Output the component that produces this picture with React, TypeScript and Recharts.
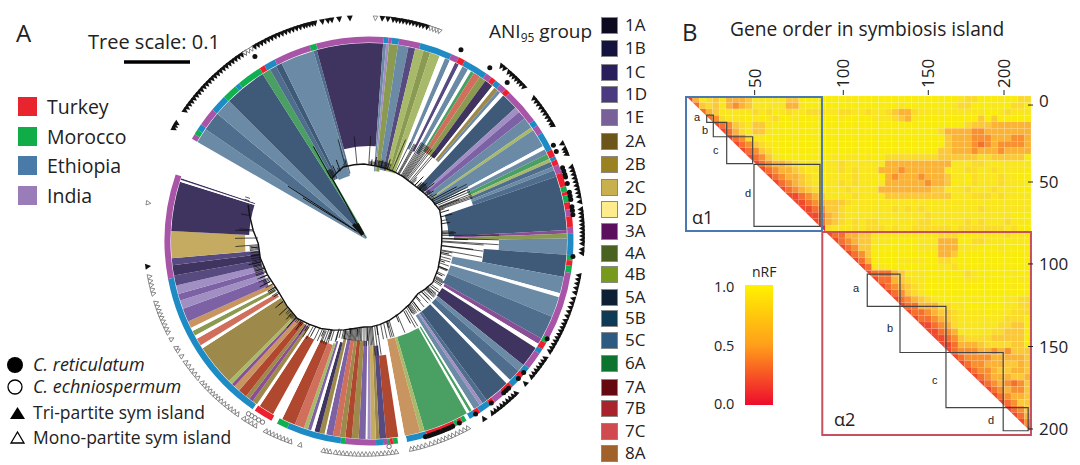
import React from 'react';
import {
  PieChart, Pie, Sector, ScatterChart, Scatter, XAxis, YAxis, ReferenceArea,
} from 'recharts';

const FONT = '"Open Sans", Lato, sans-serif';

// ---- legends
const aniGroups = ['1A', '1B', '1C', '1D', '1E', '2A', '2B', '2C', '2D', '3A', '4A', '4B', '5A', '5B', '5C', '6A', '7A', '7B', '7C', '8A'];
const aniColors = ['#0d0a1f', '#151240', '#2a1f5c', '#4a3a80', '#786199', '#6b551b', '#9a8223', '#c9b04e', '#fdeb8c', '#5c0f5c', '#4a6122', '#779a1d', '#0c1f35', '#0f3a55', '#2d5a80', '#0c742e', '#66080f', '#a8232b', '#d04a50', '#a0622a'];
const aniRowY = [25, 48, 72, 94, 117, 141, 164, 187, 209, 231, 253, 274, 297, 318, 340, 363, 387, 408, 431, 453];
const countries = ['Turkey', 'Morocco', 'Ethiopia', 'India'];
const countryColors = ['#e8252e', '#10ac48', '#4a7aa8', '#9a7cb8'];

// ---- clades of the tree, clockwise from the open gap
const cladeGroups = ['5C', '5M', '5C', '5B', '6A', '5M', '5B', '5C', '5M', '1C', '5C', 'L', '4A', '5C', '1D', '4B', '4A', '4B', 'W', '5C', 'W', '1D', 'W', '5C', 'W', '6A', '7C', '4A', '1C', 'W', '2B', '5C', 'W', '5B', 'L', '1E', '5C', '4B', '5C', 'W', '5C', '6A', '4B', '5M', '5C', '5M', '5B', '3A', '4A', '5C', '5B', '5C', 'W', '5C', '5M', '3A', 'W', '1C', '5C', '5M', 'W', '5B', '5M', 'L', '5C', 'W', '6A', 'W', '6A', '4B', '8A', 'W', '7B', '1D', '2B', '2C', 'L', 'W', '1E', '2B', '7B', '2B', '7C', '1E', 'W', '2B', '1C', 'W', '1E', '4B', '7C', '7B', 'W', '7B', 'W', '2B', '3A', '2B', '7B', '8A', '3A', '4B', '2B', 'W', '7C', 'W', '4A', 'W', '8A', '1E', 'L', '1E', 'L', '1D', '1C', '1D', '2C', '1C', 'W', '1C', 'W'];
const cladeSpans = [4.4, 5.6, 5, 12.5, 2.5, 2, 1.8, 9.9, 1, 19.4, 0.9, 0.8, 2.6, 3.1, 2, 2.5, 2, 2.9, 1.7, 1.5, 1.7, 1.2, 1.2, 1.8, 1, 1, 2, 2, 2.5, 0.8, 1.2, 1, 1.2, 5, 1.6, 2.5, 3.2, 1, 5.4, 1.1, 1.5, 1.5, 1, 1.5, 1.1, 1.9, 15.8, 1, 1.5, 4.7, 6.5, 4.8, 1.2, 6, 7, 1.8, 1.4, 6.1, 2.2, 3.6, 1.4, 7.5, 1.5, 1, 2, 0.8, 0.8, 0.8, 13.3, 1.3, 4.6, 1.9, 3.5, 2, 1, 1.5, 1, 0.5, 2, 2, 1.9, 1.6, 2, 2, 0.5, 1.5, 1.5, 1, 1, 1.2, 2.8, 4, 3, 4.5, 1, 1.5, 1.2, 1.2, 2.6, 1.8, 1, 1.2, 12.2, 1, 2.2, 1.1, 1.5, 1, 2, 4, 2.5, 2, 2.5, 3, 3, 2, 7.9, 14.5, 0.6, 0.5, 0.5];
// distance from the root to where each collapsed clade opens
const cladeDepths = [4, 4, 4, 4, 4, 70, 70, 68, 70, 95, 70, 70, 70, 72, 72, 72, 72, 72, 72, 100, 100, 100, 100, 100, 100, 105, 105, 105, 105, 105, 105, 105, 105, 72, 75, 75, 75, 75, 75, 75, 110, 110, 110, 110, 110, 110, 80, 85, 85, 130, 115, 85, 85, 85, 85, 87, 87, 87, 88, 88, 88, 88, 88, 88, 88, 88, 100, 100, 100, 100, 100, 100, 115, 105, 105, 105, 105, 105, 100, 100, 100, 100, 100, 100, 100, 100, 105, 105, 105, 108, 110, 110, 110, 113, 113, 105, 105, 105, 105, 105, 105, 105, 105, 106, 106, 106, 106, 106, 106, 110, 110, 110, 110, 110, 110, 110, 124, 120, 120, 120, 120];
const cladeTints: Record<string, string> = {
  '1C': '#3f3360', '1D': '#574a80', '1E': '#7c62a4', L: '#a18fc4', '2B': '#9d8a4a', '2C': '#c5aa62',
  '3A': '#8a4e96', '4A': '#8a9a50', '4B': '#a9b96a', '5B': '#3e5a78', '5C': '#6b8aa5', '5M': '#4f6d8c',
  '6A': '#4a9f62', '7B': '#b0472f', '7C': '#d0705c', '8A': '#c89460', W: '#ffffff',
};

// ---- country strip round the tree
const stripSpans = [1.5, 1.5, 1.8, 5.2, 4.8, 4.4, 1.3, 7.2, 1.5, 3.3, 10.6, 1.9, 19.2, 1.3, 1, 2, 6.1, 9.2, 2.3, 1.9, 7, 1.8, 1.5, 1.7, 2, 1.5, 10.3, 1.7, 2.5, 5.4, 2.1, 1, 1.5, 2.5, 3.9, 1.6, 1, 2, 2, 2, 3, 2, 6, 1.5, 1.5, 2, 19.4, 1.6, 2, 1.5, 5, 2.1, 1.8, 3, 3.2, 3.4, 1.6, 3.4, 1.6, 1.9, 1, 1.2, 1.3, 1, 8.4, 5.9, 2.5, 1.4, 0.8, 0.6, 1.4, 2, 8.8, 1.2, 15.6, 3.2, 1.7, 5.5, 0.7, 44.6, 29.7];
const stripOrder = ['P', 'G', 'B', 'P', 'B', 'G', 'B', 'G', 'R', 'B', 'P', 'G', 'P', 'B', 'P', 'B', 'P', 'B', 'P', 'R', 'B', 'P', 'R', 'B', 'P', 'R', 'P', 'B', 'P', 'B', 'R', 'B', 'R', 'P', 'R', 'G', 'R', 'G', 'R', 'P', 'R', 'P', 'B', 'G', 'R', 'G', 'P', 'G', 'R', 'B', 'P', 'B', 'R', 'B', 'R', 'P', 'R', 'B', 'R', 'B', 'W', 'G', 'R', 'G', 'R', 'B', 'W', 'G', 'R', 'G', 'P', 'B', 'P', 'G', 'B', 'G', 'W', 'R', 'W', 'B', 'P'];
const stripTints: Record<string, string> = { P: '#a855a8', B: '#1f8bc4', G: '#10b050', R: '#ee2030', W: '#ffffff' };

// ---- tip annotations, degrees clockwise from the top
const triFilled = [-60.5, -59.8, -59, -55, -54, -53, -52, -51, -50, -49, -48, -47, -46, -45, -44, -43, -42, -41, -40, -39, -38, -37, -36, -35, -34, -33, -30, -29, -28, -27, -26, -25, -24, -23, -22, -21, -20, -19, -18, -17, -16, -15.3, -14.5, -13.7, -13, -11, -9.5, -8.5, -6.5, -3.7, 4.8, 6.3, 7.7, 8.6, 9.5, 10.4, 11.3, 12.2, 13.1, 14, 14.9, 15.8, 16.8, 39, 40, 41.5, 42.4, 43.3, 44.2, 45.1, 46, 47, 51, 52, 53, 54, 55, 56, 57, 58, 59, 59.6, 65, 66.5, 67.2, 68, 71.6, 72.6, 73.6, 74.6, 75.6, 76.6, 77.6, 78.6, 79.6, 81, 83, 84, 85, 86, 87, 88, 89, 90, 91, 92, 93.5, 94.5, 100.4, 101.5, 102.6, 103.8, 105, 106.7, 107.9, 109.1, 110.3, 111.5, 112.8, 113.8, 114.8, 115.8, 116.8, 117.8, 118.8, 119.8, 120.8, 121.8, 124, 125, 126, 127, 128, 129, 130, 132.4, 136, 137, 138, 139, 140, 141, 142, 143, 144, 146.7, 262];
const triOpen = [-33, -32, -31, 3, 17.8, 18.6, 19.4, 20.2, 151.6, 152.7, 153.8, 154.9, 156, 157, 158, 159, 160, 161, 162.2, 163.5, 164.6, 165.6, 166.6, 167.5, 171.5, 172.5, 173.5, 174.5, 175.5, 176.5, 177.5, 178.5, 179.5, 180.5, 181.5, 182.5, 183.5, 184.5, 185.5, 186.5, 187.5, 189, 189.9, 190.7, 197, 199.7, 200.7, 201.7, 202.7, 203.7, 204.7, 205.7, 206.7, 209.8, 211, 212.2, 213.3, 215.4, 216.5, 217.6, 218.7, 219.8, 220.9, 221.9, 222.8, 223.8, 224.8, 225.8, 226.8, 227.8, 229.5, 230.8, 232, 233.4, 234.7, 236.6, 238.4, 239.2, 241.8, 243.8, 244.8, 245.9, 247, 248, 249, 250, 251.1, 252.2, 254.7, 255.8, 257, 258.1, 259.3, 278.7];
const hostReticulatum = [-31.3, 27.5, 36.8, 43, 64.4, 66.3, 71, 72, 73, 73.7, 75.5, 78, 79, 80, 82, 83, 84.2, 95.6, 119.3, 130.5, 132.7, 136.5, 137.4, 138.3, 142.7, 147.9, 153, 155, 155.6, 156.2, 156.8, 157.4, 158, 158.6, 159.2, 159.8, 160.4, 161, 161.6, 162.2, 163];
const hostEchinospermum = [173.2, 208.6, 209.8, 211, 212, 213];

// ---- tree backbone (angle, radius) and the few long branches near the root
const backboneAngles = [-29, -23, -17, -8, 0, 10, 18, 25, 33, 40, 48, 55, 63, 71, 78, 86, 95, 105, 114, 124, 131, 137, 146, 155, 163, 170, 175, 180, 186, 192, 198, 205, 212, 219, 228, 238, 248, 258, 266, 273, 280, 285];
const backboneRadii = [66, 69, 72, 72, 72, 71, 71, 71, 71, 71, 72, 74, 77, 80, 79, 78, 78, 79, 81, 83, 81, 79, 82, 85, 88, 90, 91, 91, 93, 96, 99, 102, 104, 106, 104, 102, 104, 106, 106, 111, 116, 120];
const longBranchAngles = [-29, -56.7, -29.5, -58, -42, -29];
const longBranchFrom = [2, 8, 66, 10, 2, 2];
const longBranchTo = [66, 91, 103, 72, 16, 14];
const longBranchWidth = [1.2, 1, 1, 1, 3.5, 3];
// short fringe of leaves along the backbone
const hairAngles = [-24, -20, -14, 6, 9, 14, 19, 42, 45, 47, 50, 53, 57, 60, 62, 66, 69, 73, 76, 81, 88, 92, 97, 102, 108, 112, 117, 122, 127, 130, 134, 139, 143, 148, 152, 158, 165, 172, 178, 184, 188, 191, 195, 199, 203, 208, 212, 216, 220, 223, 227, 231, 236, 240, 244, 248, 252, 256, 260, 264];
const hairLengths = [8, 12, 7, 6, 9, 7, 10, 8, 12, 7, 10, 14, 9, 7, 28, 34, 22, 9, 12, 8, 14, 26, 32, 8, 6, 10, 7, 9, 12, 8, 10, 7, 12, 9, 14, 8, 7, 10, 14, 8, 6, 9, 12, 10, 7, 12, 8, 10, 14, 8, 12, 10, 7, 9, 12, 8, 10, 13, 9, 8];

// ---- nRF matrix, 4 genes per cell; each row starts at the diagonal, 0 red .. 9 yellow
const nrfRows = [
  '2587685556888886699999998999999999999999987799989977',
  '36768545688888558999999999999998999999987799989977',
  '35688888787987887778877887887655788888888889987888',
  '3478889898799899989989999888765899999999969699999',
  '234678668999999999999999999999999999997666555555555',
  '23578668999999999999999999999999975555445555555',
  '23478899999999999999999999999999965554445554455',
  '2346789999999999999999999999999965554345444455',
  '23467999999999999999999999999966555455545555',
  '234689999998989889899777777776666667766666',
  '234556788888878888885555555555888778888888',
  '2345567888887878885554555555888778878888',
  '234556788888878889545554555688978887889',
  '23456788887878898555555455698978887888',
  '234567888878888555555556688878887888',
  '22345688887888866666666668887778788888',
  '22345666788888888888888888888888888888',
  '22346678888888787878888888878888888',
  '2235678888888888887888888888888',
  '23567878778888887788888787888788',
  '178887877787887777778777777787',
  '233556688888888887779998888788',
  '23456688899998885559977888988',
  '234669999999888555888999899',
  '23469999999999556999999999',
  '2359999888899778999999999',
  '2388999999998879999999',
  '233356888999999789999989',
  '233567889999998899999989',
  '2345678999999999999989',
  '23467899999999999999',
  '234567899999899998877',
  '23355577889999998877',
  '2334566788889888777',
  '23345678888888777',
  '2234578888887766',
  '223458888877666',
  '22346777766666',
  '2235556777766',
  '2344455454666',
  '234444555556',
  '23445556656',
  '2344566556',
  '234555665',
  '23454346',
  '2345446',
  '234556',
  '23466',
  '2346',
  '235',
  '24',
  '3',
];
const nrfLevels = ['#ec1f30', '#ed2a30', '#f1492e', '#f5702c', '#f8902f', '#fbb335', '#fbc938', '#fadb2c', '#f9e61e', '#f9ec0c'];

// gene-order boxes, in genes
const blockNames = ['a', 'b', 'c', 'd', 'a', 'b', 'c', 'd'];
const blockStart = [12.5, 16.5, 24.6, 41.1, 109.6, 129.4, 157.2, 191.8];
const blockEnd = [16.5, 24.6, 40.3, 81, 129.4, 157.2, 191.8, 206.9];
const blockTop = [11.2, 15.7, 24.7, 41.8, 110, 130.1, 158.7, 193];
const blockBottom = [15.7, 24.7, 41.4, 80.4, 130.1, 158.7, 193, 207.3];
const blockLabelX = [694, 702, 713, 745, 853, 887, 932, 988];
const blockLabelY = [121, 134, 154, 197, 292, 332, 384, 424];

const xTickGenes = [41.5, 95.1, 146.5, 192.3];
const xTickLabels = ['50', '100', '150', '200'];
const yTickGenes = [5, 52.8, 103.7, 155, 206.2];
const yTickLabels = ['0', '50', '100', '150', '200'];

const cladeData = cladeGroups.map((g, i) => ({ name: g, value: cladeSpans[i], depth: cladeDepths[i], fill: cladeTints[g] }));
const stripData = stripOrder.map((g, i) => ({ name: g, value: stripSpans[i], fill: stripTints[g] }));

const toXY = (angle: number, radius: number) => ({
  x: radius * Math.sin((angle * Math.PI) / 180),
  y: radius * Math.cos((angle * Math.PI) / 180),
  angle,
});

const backbone = backboneAngles.map((a, i) => toXY(a, backboneRadii[i]));

// radius of the backbone closest to an angle, used for the stem of a clade
const backboneAt = (angle: number) => {
  let best = 0;
  backboneAngles.forEach((a, i) => {
    if (Math.abs(a - angle) < Math.abs(backboneAngles[best] - angle)) best = i;
  });
  return backboneRadii[best];
};

let walked = -60;
const stems = cladeGroups.flatMap((g, i) => {
  const from = walked;
  const span = cladeSpans[i];
  walked += span;
  if (g === 'W' || cladeDepths[i] < 10) return [];
  const marks = span > 1.5 ? [from + 0.3, from + span / 2, from + span - 0.3] : [from + span / 2];
  return marks.map((a) => [toXY(a, backboneAt(a)), toXY(a, cladeDepths[i] + 5)]);
});
const hairs = hairAngles.map((a, i) => [toXY(a, backboneAt(a)), toXY(a, backboneAt(a) + hairLengths[i])]);

const nrfCells = nrfRows.flatMap((row, r) => {
  const cells = [];
  for (let c = r; c < 52; c++) {
    const level = Number(row[c - r] ?? '9');
    cells.push({ x: c * 4 + 2, y: r * 4 + 2, diag: c === r, fill: nrfLevels[level] });
  }
  return cells;
});

const CladeSector = (props: any) => {
  const depth = props.payload?.depth ?? props.depth;
  return <Sector {...props} innerRadius={depth} stroke="none" />;
};

const FilledTip = ({ cx, cy, payload }: any) => (
  <polygon points={`${cx - 3},${cy - 2.8} ${cx + 3},${cy - 2.8} ${cx},${cy + 3}`} fill="#111" transform={`rotate(${payload.angle} ${cx} ${cy})`} />
);
const OpenTip = ({ cx, cy, payload }: any) => (
  <polygon points={`${cx - 2.3},${cy - 2.2} ${cx + 2.3},${cy - 2.2} ${cx},${cy + 2.4}`} fill="#fff" stroke="#777" strokeWidth={0.8} transform={`rotate(${payload.angle} ${cx} ${cy})`} />
);
const FilledHost = ({ cx, cy }: any) => <circle cx={cx} cy={cy} r={2.5} fill="#111" />;
const OpenHost = ({ cx, cy }: any) => <circle cx={cx} cy={cy} r={2.2} fill="#fff" stroke="#555" strokeWidth={0.8} />;
const NoDot = () => null;

const NrfCell = ({ cx, cy, payload }: any) => {
  const w = 3.33;
  const h = 3.24;
  if (payload.diag) {
    return <polygon points={`${cx - w},${cy - h} ${cx + w},${cy - h} ${cx + w},${cy + h}`} fill={payload.fill} />;
  }
  return <rect x={cx - w} y={cy - h} width={w * 2} height={h * 2} fill={payload.fill} stroke="#fff" strokeOpacity={0.16} strokeWidth={0.6} />;
};

const TopTick = ({ x, index }: any) => (
  <g>
    <line x1={x} x2={x} y1={90} y2={95} stroke="#222" strokeWidth={1} />
    <text x={x + 6} y={88} transform={`rotate(-90 ${x + 6} 88)`} fontFamily={FONT} fontSize={17} fill="#222">{xTickLabels[index]}</text>
  </g>
);
const RightTick = ({ y, index }: any) => (
  <g>
    <line x1={1028} x2={1033} y1={y} y2={y} stroke="#222" strokeWidth={1} />
    <text x={1039} y={index === 0 ? y + 2 : y + 6} fontFamily={FONT} fontSize={17} fill="#222">{yTickLabels[index]}</text>
  </g>
);

const layer: React.CSSProperties = { position: 'absolute', left: 0, top: 0 };
const heatMargin = { top: 89.56, right: 42.4, bottom: 26.7, left: 679.4 };

export default function App() {
  return (
    <div style={{ position: 'absolute', left: 0, top: 0, width: 1080, height: 465, background: '#fff', overflow: 'hidden' }}>
      <div style={layer}>
        <PieChart width={1080} height={465}>
          <Pie data={cladeData} dataKey="value" cx={364} cy={236} startAngle={150} endAngle={-199} innerRadius={60} outerRadius={198} stroke="none" shape={CladeSector} isAnimationActive={false} />
          <Pie data={stripData} dataKey="value" cx={364} cy={236} startAngle={150} endAngle={-199} innerRadius={198.5} outerRadius={204.5} stroke="none" isAnimationActive={false} />
        </PieChart>
      </div>

      <div style={layer}>
        <ScatterChart width={1080} height={465} margin={{ top: 0, right: 0, bottom: 0, left: 0 }}>
          <XAxis type="number" dataKey="x" domain={[-364, 716]} hide />
          <YAxis type="number" dataKey="y" domain={[-229, 236]} hide />
          {stems.map((s, i) => (
            <Scatter key={i} data={s} shape={NoDot} line={{ stroke: '#111', strokeWidth: 0.7 }} isAnimationActive={false} />
          ))}
          {hairs.map((s, i) => (
            <Scatter key={`h${i}`} data={s} shape={NoDot} line={{ stroke: '#111', strokeWidth: 0.9 }} isAnimationActive={false} />
          ))}
          {longBranchAngles.map((a, i) => (
            <Scatter key={`b${i}`} data={[toXY(a, longBranchFrom[i]), toXY(a, longBranchTo[i])]} shape={NoDot} line={{ stroke: '#111', strokeWidth: longBranchWidth[i] }} isAnimationActive={false} />
          ))}
          <Scatter data={backbone} shape={NoDot} line={{ stroke: '#111', strokeWidth: 1.4 }} isAnimationActive={false} />
          <Scatter data={triFilled.map((a) => toXY(a, 218))} shape={FilledTip} isAnimationActive={false} />
          <Scatter data={triOpen.map((a) => toXY(a, 218))} shape={OpenTip} isAnimationActive={false} />
          <Scatter data={hostReticulatum.map((a) => toXY(a, 210))} shape={FilledHost} isAnimationActive={false} />
          <Scatter data={hostEchinospermum.map((a) => toXY(a, 212))} shape={OpenHost} isAnimationActive={false} />
        </ScatterChart>
      </div>

      <div style={layer}>
        <ScatterChart width={1080} height={465} margin={heatMargin}>
          <XAxis type="number" dataKey="x" orientation="top" domain={[-4, 212]} height={1} hide />
          <YAxis type="number" dataKey="y" orientation="right" reversed domain={[-4, 212]} width={1} hide />
          <Scatter data={nrfCells} shape={NrfCell} isAnimationActive={false} />
        </ScatterChart>
      </div>

      {/* boxes and ticks sit in their own layer so they stay above the cells */}
      <div style={layer}>
        <ScatterChart width={1080} height={465} margin={heatMargin}>
          <XAxis type="number" dataKey="x" orientation="top" domain={[-4, 212]} ticks={xTickGenes} interval={0} height={1} axisLine={false} tickLine={false} tick={<TopTick />} />
          <YAxis type="number" dataKey="y" orientation="right" reversed domain={[-4, 212]} ticks={yTickGenes} interval={0} width={1} axisLine={false} tickLine={false} tick={<RightTick />} />
          <Scatter data={[{ x: 0, y: 0 }]} shape={NoDot} isAnimationActive={false} />
          {blockNames.map((n, i) => (
            <ReferenceArea key={i} x1={blockStart[i]} x2={blockEnd[i]} y1={blockTop[i]} y2={blockBottom[i]} fill="none" stroke="#444" strokeWidth={1.2} ifOverflow="visible" />
          ))}
          <ReferenceArea x1={0} x2={82.2} y1={0} y2={83.3} fill="none" stroke="#4a78b0" strokeWidth={2} ifOverflow="visible" />
          <ReferenceArea x1={82.4} x2={208.6} y1={83.9} y2={209.9} fill="none" stroke="#c8505e" strokeWidth={2} ifOverflow="visible" />
        </ScatterChart>
      </div>

      {/* colour key and panel text */}
      <div style={{ position: 'absolute', left: 745, top: 285, width: 28, height: 120, background: 'linear-gradient(#fff200, #ff9f1a 50%, #ee0b2e)' }} />
      {countries.map((c, i) => (
        <div key={c} style={{ position: 'absolute', left: 18, top: 97 + i * 29.5, width: 19, height: 19, background: countryColors[i] }} />
      ))}
      {aniGroups.map((g, i) => (
        <div key={g} style={{ position: 'absolute', left: 601, top: aniRowY[i] - 8, width: 15, height: 15, background: aniColors[i], border: '1px solid #888' }} />
      ))}
      <svg width={1080} height={465} style={layer} fontFamily={FONT} fill="#222">
        <text x={16} y={42} fontSize={24}>A</text>
        <text x={682} y={41} fontSize={24}>B</text>
        <text x={88} y={49} fontSize={20}>Tree scale: 0.1</text>
        <line x1={124} x2={190} y1={62} y2={62} stroke="#000" strokeWidth={3.5} />
        {countries.map((c, i) => (
          <text key={c} x={47} y={114 + i * 29.5} fontSize={19.5}>{c}</text>
        ))}
        <text x={489} y={38} fontSize={19}>ANI<tspan fontSize={12} dy={4}>95</tspan><tspan dy={-4}> group</tspan></text>
        {aniGroups.map((g, i) => (
          <text key={g} x={625} y={aniRowY[i] + 6} fontSize={17}>{g}</text>
        ))}
        <circle cx={15} cy={365} r={8} fill="#000" />
        <circle cx={15} cy={387} r={7} fill="#fff" stroke="#000" strokeWidth={1.3} />
        <polygon points="10,419 25,419 17.5,407" fill="#000" />
        <polygon points="11,443 24,443 17.5,432" fill="#fff" stroke="#000" strokeWidth={1.3} />
        <text x={33} y={371} fontSize={18} fontStyle="italic">C. reticulatum</text>
        <text x={33} y={393} fontSize={18} fontStyle="italic">C. echniospermum</text>
        <text x={33} y={419} fontSize={17.5}>Tri-partite sym island</text>
        <text x={33} y={444} fontSize={17.5}>Mono-partite sym island</text>
        <text x={730} y={36} fontSize={19.2}>Gene order in symbiosis island</text>
        <text x={752} y={277} fontSize={14}>nRF</text>
        <text x={714} y={292} fontSize={14.5}>1.0</text>
        <text x={714} y={351} fontSize={14.5}>0.5</text>
        <text x={714} y={409} fontSize={14.5}>0.0</text>
        <text x={692} y={224} fontSize={18}>α1</text>
        <text x={834} y={426} fontSize={18}>α2</text>
        {blockNames.map((n, i) => (
          <text key={i} x={blockLabelX[i]} y={blockLabelY[i]} fontSize={11} fontFamily="Liberation Sans">{n}</text>
        ))}
      </svg>
    </div>
  );
}
